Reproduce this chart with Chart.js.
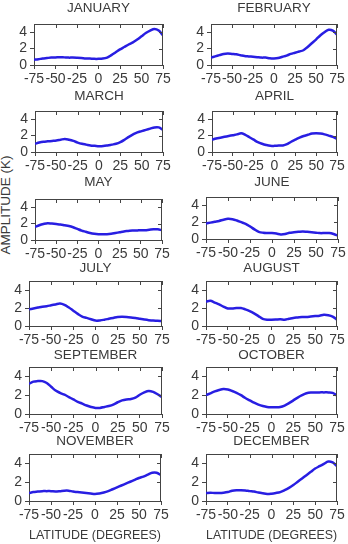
<!DOCTYPE html>
<html>
<head>
<meta charset="utf-8">
<script src="https://cdn.jsdelivr.net/npm/chart.js@4.4.1/dist/chart.umd.min.js"></script>
<style>
  html, body { margin: 0; padding: 0; background: #fff; }
  #page { position: relative; width: 348px; height: 544px; overflow: hidden; }
  #page canvas { position: absolute; }
  #ytitle {
    position: absolute; left: 6px; top: 205px;
    font: 13.5px "Liberation Sans", Arial, sans-serif; color: #3a3a3a;
    white-space: nowrap; line-height: 1;
    transform: translate(-50%, -50%) rotate(-90deg);
  }
</style>
</head>
<body>
<div id="page">
  <div id="ytitle">AMPLITUDE (K)</div>
</div>
<script>
// latitude grid (degrees) shared by every panel
const latitudes = [-75, -70, -65, -60, -55, -50, -45, -40, -35, -30, -25, -20, -15, -10, -5, 0,
                   5, 10, 15, 20, 25, 30, 35, 40, 45, 50, 55, 60, 65, 70, 75];

const monthNames = ['JANUARY', 'FEBRUARY', 'MARCH', 'APRIL', 'MAY', 'JUNE',
                    'JULY', 'AUGUST', 'SEPTEMBER', 'OCTOBER', 'NOVEMBER', 'DECEMBER'];

// amplitude (K)
const january   = [0.65, 0.7, 0.8, 0.85, 0.9, 0.92, 0.95, 0.93, 0.9, 0.9, 0.88, 0.85, 0.8, 0.78, 0.75, 0.75,
                   0.78, 0.9, 1.2, 1.55, 1.9, 2.2, 2.5, 2.75, 3.1, 3.5, 3.9, 4.2, 4.4, 4.2, 3.6];
const february  = [0.9, 1.05, 1.2, 1.35, 1.4, 1.35, 1.3, 1.2, 1.1, 1.05, 1.0, 0.95, 0.9, 0.9, 0.82, 0.8,
                   0.85, 1.0, 1.15, 1.35, 1.5, 1.65, 1.8, 2.2, 2.65, 3.1, 3.6, 4.0, 4.3, 4.2, 3.7];
const march     = [1.0, 1.15, 1.25, 1.3, 1.35, 1.4, 1.5, 1.6, 1.5, 1.35, 1.15, 1.0, 0.9, 0.8, 0.75, 0.7,
                   0.72, 0.8, 0.9, 1.0, 1.2, 1.5, 1.85, 2.15, 2.4, 2.55, 2.7, 2.85, 3.0, 3.0, 2.7];
const april     = [1.5, 1.65, 1.75, 1.85, 1.95, 2.05, 2.15, 2.3, 2.1, 1.8, 1.5, 1.2, 1.0, 0.85, 0.75, 0.75,
                   0.78, 0.8, 0.95, 1.25, 1.5, 1.75, 1.95, 2.1, 2.25, 2.3, 2.25, 2.15, 2.0, 1.85, 1.6];
const may       = [1.6, 1.8, 1.95, 2.05, 2.0, 1.95, 1.9, 1.8, 1.7, 1.55, 1.35, 1.15, 1.0, 0.85, 0.75, 0.7,
                   0.7, 0.7, 0.75, 0.85, 0.95, 1.05, 1.1, 1.15, 1.15, 1.2, 1.2, 1.25, 1.3, 1.3, 1.2];
const june      = [1.85, 1.95, 2.05, 2.15, 2.3, 2.4, 2.35, 2.2, 2.0, 1.8, 1.5, 1.15, 0.85, 0.75, 0.72, 0.7,
                   0.65, 0.55, 0.6, 0.75, 0.8, 0.85, 0.9, 0.85, 0.8, 0.75, 0.7, 0.72, 0.72, 0.6, 0.4];
const july      = [1.85, 1.95, 2.05, 2.15, 2.2, 2.3, 2.4, 2.5, 2.35, 2.05, 1.7, 1.35, 1.05, 0.9, 0.75, 0.6,
                   0.62, 0.7, 0.8, 0.9, 1.0, 1.02, 1.0, 0.95, 0.88, 0.8, 0.72, 0.65, 0.6, 0.58, 0.55];
const august    = [2.7, 2.8, 2.6, 2.4, 2.15, 1.95, 1.95, 2.0, 2.0, 1.85, 1.65, 1.4, 1.1, 0.8, 0.7, 0.7,
                   0.72, 0.75, 0.7, 0.8, 0.9, 0.95, 1.0, 1.0, 1.05, 1.1, 1.15, 1.25, 1.2, 1.05, 0.7];
const september = [3.2, 3.45, 3.5, 3.5, 3.3, 2.9, 2.5, 2.25, 2.05, 1.8, 1.55, 1.3, 1.1, 0.9, 0.75, 0.65,
                   0.65, 0.75, 0.85, 1.0, 1.25, 1.45, 1.55, 1.6, 1.75, 2.05, 2.3, 2.45, 2.35, 2.1, 1.8];
const october   = [2.0, 2.2, 2.4, 2.55, 2.65, 2.6, 2.45, 2.25, 2.0, 1.7, 1.45, 1.2, 1.0, 0.85, 0.75, 0.72,
                   0.72, 0.75, 0.9, 1.15, 1.45, 1.75, 2.0, 2.2, 2.28, 2.28, 2.3, 2.3, 2.3, 2.25, 1.95];
const november  = [0.85, 0.95, 1.0, 1.05, 1.05, 1.05, 1.02, 1.05, 1.1, 1.1, 1.0, 0.95, 0.9, 0.85, 0.8, 0.75,
                   0.8, 0.9, 1.05, 1.25, 1.45, 1.65, 1.85, 2.05, 2.25, 2.45, 2.6, 2.8, 3.0, 3.0, 2.75];
const december  = [0.85, 0.88, 0.85, 0.85, 0.88, 0.95, 1.1, 1.15, 1.15, 1.12, 1.05, 1.0, 0.9, 0.82, 0.75, 0.78,
                   0.85, 0.95, 1.15, 1.4, 1.7, 2.05, 2.4, 2.75, 3.1, 3.45, 3.7, 3.95, 4.2, 4.1, 3.7];

const monthValues = [january, february, march, april, may, june,
                     july, august, september, october, november, december];

const xTickValues = [-75, -50, -25, 0, 25, 50, 75];
const yTickValues = [0, 2, 4];
const xLabel = 'LATITUDE (DEGREES)';

// plot area on the page for each panel: left, top, right, bottom, title centre y
const panelBoxes = [
  [34, 24, 163, 65, 8.5],   [211, 24, 337, 65, 8.5],
  [35, 111, 163, 152, 96],  [212, 111, 337, 152, 96],
  [35, 199, 162, 240, 182], [206, 197, 338, 239, 182],
  [29, 281, 162, 326, 268], [206, 281, 337, 326, 268],
  [29, 367, 162, 414, 355], [206, 367, 337, 414, 355],
  [29, 454, 161, 501, 441], [206, 454, 337, 501, 441]
];

const fontFamily = '"Liberation Sans", Arial, Helvetica, sans-serif';
const textColor = '#3a3a3a';
const frameColor = '#444';
const lineColor = 'rgb(40, 30, 226)';
const yAxisW = 34, rightPad = 12;

// closes the box, draws inward ticks on top/right and the panel title
const framePlugin = {
  id: 'frame',
  afterDraw(chart) {
    const ctx = chart.ctx;
    const a = chart.chartArea;
    const x = chart.scales.x, y = chart.scales.y;
    const opts = chart.options.plugins.frame;
    ctx.save();
    ctx.strokeStyle = frameColor;
    ctx.lineWidth = 1;
    ctx.beginPath();
    ctx.moveTo(a.left, Math.round(a.top) + 0.5);
    ctx.lineTo(a.right, Math.round(a.top) + 0.5);
    ctx.moveTo(Math.round(a.right) - 0.5, a.top);
    ctx.lineTo(Math.round(a.right) - 0.5, a.bottom);
    xTickValues.forEach(v => {
      const px = Math.round(x.getPixelForValue(v)) + 0.5;
      ctx.moveTo(px, a.top);
      ctx.lineTo(px, a.top + 4);
    });
    yTickValues.forEach(v => {
      const py = Math.round(y.getPixelForValue(v)) + 0.5;
      ctx.moveTo(a.right, py);
      ctx.lineTo(a.right - 4, py);
    });
    ctx.stroke();
    ctx.fillStyle = textColor;
    ctx.font = '13.5px ' + fontFamily;
    ctx.textAlign = 'center';
    ctx.textBaseline = 'middle';
    ctx.fillText(opts.title, (a.left + a.right) / 2, opts.titleY);
    ctx.restore();
  }
};

const page = document.getElementById('page');

monthNames.forEach((name, i) => {
  const [L, T, R, B, titleY] = panelBoxes[i];
  const isBottom = i >= 10;
  const xAxisH = isBottom ? 42 : 22;
  const canvasTop = Math.floor(titleY - 10);
  const canvasLeft = L - yAxisW;
  const w = R - L + yAxisW + rightPad;
  const h = B - canvasTop + xAxisH;

  const canvas = document.createElement('canvas');
  canvas.width = w;
  canvas.height = h;
  canvas.style.left = canvasLeft + 'px';
  canvas.style.top = canvasTop + 'px';
  canvas.style.width = w + 'px';
  canvas.style.height = h + 'px';
  page.appendChild(canvas);

  const points = latitudes.map((lat, k) => ({ x: lat, y: monthValues[i][k] }));

  new Chart(canvas.getContext('2d'), {
    type: 'line',
    data: {
      datasets: [{
        data: points,
        borderColor: lineColor,
        borderWidth: 2.5,
        pointRadius: 0,
        tension: 0.35,
        fill: false
      }]
    },
    options: {
      responsive: false,
      animation: false,
      devicePixelRatio: 1,
      layout: { padding: { top: T - canvasTop, right: rightPad, left: 0, bottom: 0 } },
      plugins: {
        legend: { display: false },
        tooltip: { enabled: false },
        frame: { title: name, titleY: titleY - canvasTop }
      },
      scales: {
        x: {
          type: 'linear',
          min: -75,
          max: 75,
          afterBuildTicks: s => { s.ticks = xTickValues.map(v => ({ value: v })); },
          afterFit: s => { s.height = xAxisH; },
          ticks: {
            autoSkip: false,
            maxRotation: 0,
            minRotation: 0,
            padding: 2,
            color: textColor,
            font: { family: fontFamily, size: 14 }
          },
          grid: { drawOnChartArea: false, drawTicks: true, tickLength: 4, color: frameColor },
          border: { display: true, color: frameColor },
          title: {
            display: isBottom,
            text: xLabel,
            color: textColor,
            padding: { top: 0, bottom: 0 },
            font: { family: fontFamily, size: 13.5 }
          }
        },
        y: {
          min: 0,
          max: 5,
          afterBuildTicks: s => { s.ticks = yTickValues.map(v => ({ value: v })); },
          afterFit: s => { s.width = yAxisW; },
          ticks: {
            padding: 3,
            color: textColor,
            font: { family: fontFamily, size: 14 }
          },
          grid: { drawOnChartArea: false, drawTicks: true, tickLength: 4, color: frameColor },
          border: { display: true, color: frameColor }
        }
      }
    },
    plugins: [framePlugin]
  });
});
</script>
</body>
</html>
